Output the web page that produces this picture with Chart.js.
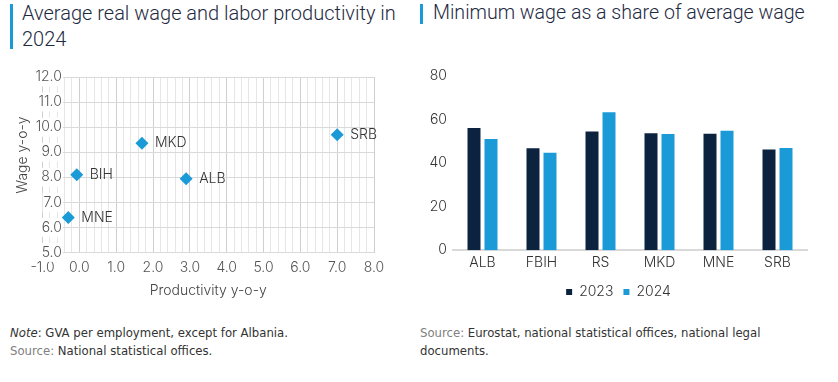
<!DOCTYPE html>
<html><head><meta charset="utf-8">
<script src="https://cdn.jsdelivr.net/npm/chart.js@4.4.1/dist/chart.umd.min.js"></script>
<style>
html,body{margin:0;padding:0;background:#fff;}
body{width:838px;height:382px;overflow:hidden;position:relative;font-family:Roboto,sans-serif;}
.bar{position:absolute;width:3px;background:#1a9bd7;}
.h{position:absolute;font-family:Roboto,sans-serif;font-weight:300;font-size:20px;line-height:26px;color:#1e2a3f;white-space:nowrap;}
.note{position:absolute;font-family:'DejaVu Sans Condensed','DejaVu Sans',sans-serif;font-stretch:condensed;font-size:13px;line-height:18px;color:#333;white-space:nowrap;}
.note .g{color:#808080;}
canvas{position:absolute;}
</style></head>
<body>
<div class="bar" style="left:10px;top:4px;height:45px;"></div>
<div class="h" style="left:22px;top:0px;">Average real wage and labor productivity in<br>2024</div>
<div class="bar" style="left:420px;top:4px;height:20px;"></div>
<div class="h" style="left:433px;top:0px;font-size:19.6px;">Minimum wage as a share of average wage</div>

<canvas id="c1" width="400" height="250" style="left:0;top:55px;width:400px;height:250px;"></canvas>
<canvas id="c2" width="428" height="260" style="left:410px;top:55px;width:428px;height:260px;"></canvas>

<div class="note" style="left:10px;top:324px;"><i>Note</i>: GVA per employment, except for Albania.<br><span class="g">Source:</span> National statistical offices.</div>
<div class="note" style="left:420px;top:324px;"><span class="g">Source:</span> Eurostat, national statistical offices, national legal<br>documents.</div>

<script>
// ---- Scatter data ----
const scatterLabels = ['ALB', 'BIH', 'MKD', 'MNE', 'SRB'];
const productivity = [2.9, -0.07, 1.7, -0.3, 7.0];
const wage = [7.94, 8.1, 9.36, 6.4, 9.7];

// ---- Bar data ----
const categories = ['ALB', 'FBIH', 'RS', 'MKD', 'MNE', 'SRB'];
const share2023 = [56.1, 46.8, 54.5, 53.7, 53.5, 46.2];
const share2024 = [51.1, 44.7, 63.4, 53.4, 54.9, 46.9];
const seriesNames = ['2023', '2024'];

const NAVY = '#0c2340';
const BLUE = '#1a9bd7';
const tickFont = {family: 'Inter', size: 14, weight: '300'};
const isInt = v => Math.abs(v - Math.round(v)) < 1e-6;

const pointLabels = {
  id: 'pointLabels',
  afterDatasetsDraw(chart) {
    const ctx = chart.ctx;
    const meta = chart.getDatasetMeta(0);
    ctx.save();
    ctx.font = '300 14px Inter';
    ctx.fillStyle = '#333';
    ctx.textBaseline = 'middle';
    ctx.textAlign = 'left';
    meta.data.forEach((el, i) => ctx.fillText(scatterLabels[i], el.x + 13, el.y));
    ctx.restore();
  }
};

new Chart(document.getElementById('c1'), {
  type: 'scatter',
  data: {
    datasets: [{
      data: productivity.map((x, i) => ({x: x, y: wage[i]})),
      pointStyle: 'rectRot',
      pointRadius: 6.5,
      backgroundColor: BLUE,
      borderColor: BLUE,
      borderWidth: 0
    }]
  },
  options: {
    responsive: false, animation: false, devicePixelRatio: 1,
    layout: {padding: {left: 8, right: 26, top: 22, bottom: 2}},
    plugins: {legend: {display: false}, tooltip: {enabled: false}},
    scales: {
      x: {
        type: 'linear', min: -1, max: 8,
        ticks: {stepSize: 0.2, autoSkip: false, maxRotation: 0, padding: 7, font: tickFont, color: '#555',
          callback: v => isInt(v) ? Number(v).toFixed(1) : ''},
        grid: {drawTicks: false, color: c => isInt(c.tick.value) ? '#cfcfcf' : '#e6e6e6', lineWidth: 1},
        border: {display: false},
        title: {display: true, text: 'Productivity y-o-y', font: tickFont, color: '#444', padding: {top: 5, bottom: 4}},
        afterFit: s => { s.height = 50.5; }
      },
      y: {
        min: 5, max: 12,
        ticks: {stepSize: 1, mirror: true, crossAlign: 'far', padding: -7, font: tickFont, color: '#555',
          showLabelBackdrop: true, backdropColor: '#ffffff', backdropPadding: 1,
          callback: v => Number(v).toFixed(1)},
        grid: {drawTicks: false, color: '#d9d9d9'},
        border: {display: false},
        title: {display: true, text: '     Wage y-o-y', font: tickFont, color: '#444', padding: {top: 6.6, bottom: 11.1}},
        afterFit: s => { s.width = 34.5; }
      }
    }
  },
  plugins: [pointLabels]
});

new Chart(document.getElementById('c2'), {
  type: 'bar',
  data: {
    labels: categories,
    datasets: [
      {label: seriesNames[0], data: share2023, backgroundColor: NAVY},
      {label: seriesNames[1], data: share2024, backgroundColor: BLUE}
    ]
  },
  options: {
    responsive: false, animation: false, devicePixelRatio: 1,
    layout: {padding: {left: 20, right: 31, top: 21, bottom: 6}},
    datasets: {bar: {categoryPercentage: 0.576, barPercentage: 0.765}},
    plugins: {
      legend: {position: 'bottom', labels: {boxWidth: 6, boxHeight: 6, padding: 10, font: tickFont, color: '#333'}},
      tooltip: {enabled: false}
    },
    scales: {
      x: {
        grid: {display: false, drawTicks: false},
        border: {color: '#d9d9d9', width: 2},
        ticks: {padding: 4, font: tickFont, color: '#333'}
      },
      y: {
        min: 0, max: 80,
        ticks: {stepSize: 20, padding: 6, font: tickFont, color: '#333'},
        grid: {display: false, drawTicks: false},
        border: {display: false},
        afterFit: s => { s.width = 23; }
      }
    }
  }
});
</script>
</body></html>
